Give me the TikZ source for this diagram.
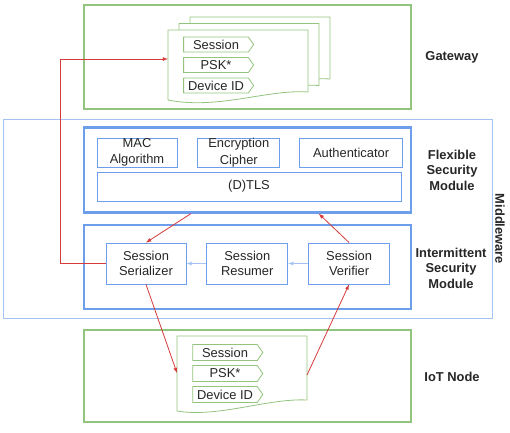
\documentclass[tikz,border=0pt]{standalone}
\usepackage{fontspec}
\setmainfont{Liberation Sans}
\usetikzlibrary{calc,positioning,shapes.symbols}
\definecolor{layergreen}{HTML}{93C47D}
\definecolor{modblue}{HTML}{6D9EEB}
\definecolor{mwblue}{HTML}{A4C2F4}
\definecolor{flowred}{HTML}{D63B3B}
\tikzset{%
	every node/.style = {font=\fontsize{12.9}{15.5}\selectfont, text=black!85},
	layer/.style      = {draw=layergreen, line width=2.4pt, rectangle, minimum width=327pt},
	module/.style     = {draw=modblue, line width=2.4pt, rectangle, minimum width=327pt},
	part/.style       = {draw=modblue, line width=0.8pt, rectangle, align=center, inner sep=0pt},
	widepart/.style   = {part, font=\fontsize{12.9}{16.5}\selectfont, minimum height=29pt},
	field/.style      = {draw=layergreen, line width=0.8pt, signal, signal to=east, signal pointer angle=110, minimum width=70pt, inner sep=0pt},
	page/.style       = {draw=layergreen, line width=0.8pt, fill=white},
	sidelabel/.style  = {font=\fontsize{12.9}{15.5}\selectfont\bfseries, align=center},
	redarrow/.style   = {draw=flowred, line width=0.8pt, -latex},
	bluearrow/.style  = {draw=mwblue, line width=0.8pt, -latex},
}
\begin{document}
\begin{tikzpicture}[x=1pt,y=-1pt]
	\useasboundingbox (0,0) rectangle (510,432);
	
	% layers and modules
	\node[draw=mwblue, line width=0.8pt, minimum width=489pt, minimum height=199pt] (mw) at (247.5,218.5) {};
	\node[layer, minimum height=104pt] (gw) at (247.5,57) {};
	\node[layer, minimum height=92pt] (iot) at (247.5,376) {};
	\node[module, minimum height=85pt] (fsm) at (247.5,170) {};
	\node[module, minimum height=84pt] (ism) at (247.5,267) {};
	
	% flexible security module
	\node[widepart, minimum width=80pt] (mac) at (137,152.5) {MAC\\Algorithm};
	\node[widepart, minimum width=82pt, right=20pt of mac] (enc) {Encryption\\Cipher};
	\node[widepart, minimum width=103pt, right=19pt of enc] (auth) {Authenticator};
	\node[widepart, minimum width=304pt] (dtls) at (249,186.5) {(D)TLS};
	
	% intermittent security module
	\node[part, minimum width=80pt, minimum height=41pt] (ser) at (146,263.5) {Session\\Serializer};
	\node[part, minimum width=81pt, minimum height=41pt, right=20pt of ser] (res) {Session\\Resumer};
	\node[part, minimum width=81pt, minimum height=41pt, right=20pt of res] (ver) {Session\\Verifier};
	
	% side labels
	\node[sidelabel] (gwlabel) at (452,57) {Gateway};
	\node[sidelabel] (fsmlabel) at (452,170) {Flexible\\Security\\Module};
	\node[sidelabel] (ismlabel) at (451,268) {Intermittent\\Security\\Module};
	\node[sidelabel] (iotlabel) at (452,377) {IoT Node};
	\node[sidelabel, rotate=-90] (mwlabel) at (500,229) {Middleware};
	
	% session pages on the gateway
	\foreach \dx/\dy in {22/-13, 11/-6.5, 0/0}
		\draw[page, shift={(\dx,\dy)}] (168,30) -- (308,30) -- (308,92) .. controls (268,89) and (218,110) .. (168,100) -- cycle;
	\node[field, minimum height=15pt] (gwsess) at (216,44.5) {Session};
	\node[field, minimum height=15pt] (gwpsk) at (216,65) {PSK*};
	\node[field, minimum height=15pt] (gwid) at (216,85.5) {Device ID};
	\coordinate (gwin) at (168,59);
	
	% session page on the node
	\draw[page] (177,336) -- (307,336) -- (307,400) .. controls (268,398) and (218,418) .. (177,411) -- cycle;
	\node[field, minimum height=16pt] (iotsess) at (225,352.5) {Session};
	\node[field, minimum height=16pt] (iotpsk) at (225,373.5) {PSK*};
	\node[field, minimum height=16pt] (iotid) at (225,394.5) {Device ID};
	\coordinate (iotin) at (177,373);
	\coordinate (iotout) at (307,375);
	
	% flows
	\draw[bluearrow] (ver.west) -- (res.east);
	\draw[bluearrow] (res.west) -- (ser.east);
	\draw[redarrow] ([xshift=108pt]fsm.south west) -- (ser.north);
	\draw[redarrow] (ver.north) -- ([xshift=236pt]fsm.south west);
	\draw[redarrow] (ser.south) -- (iotin);
	\draw[redarrow] (iotout) -- (ver.south);
	\draw[redarrow] (ser.west) -- ++(-45,0) |- (gwin);
\end{tikzpicture}
\end{document}
